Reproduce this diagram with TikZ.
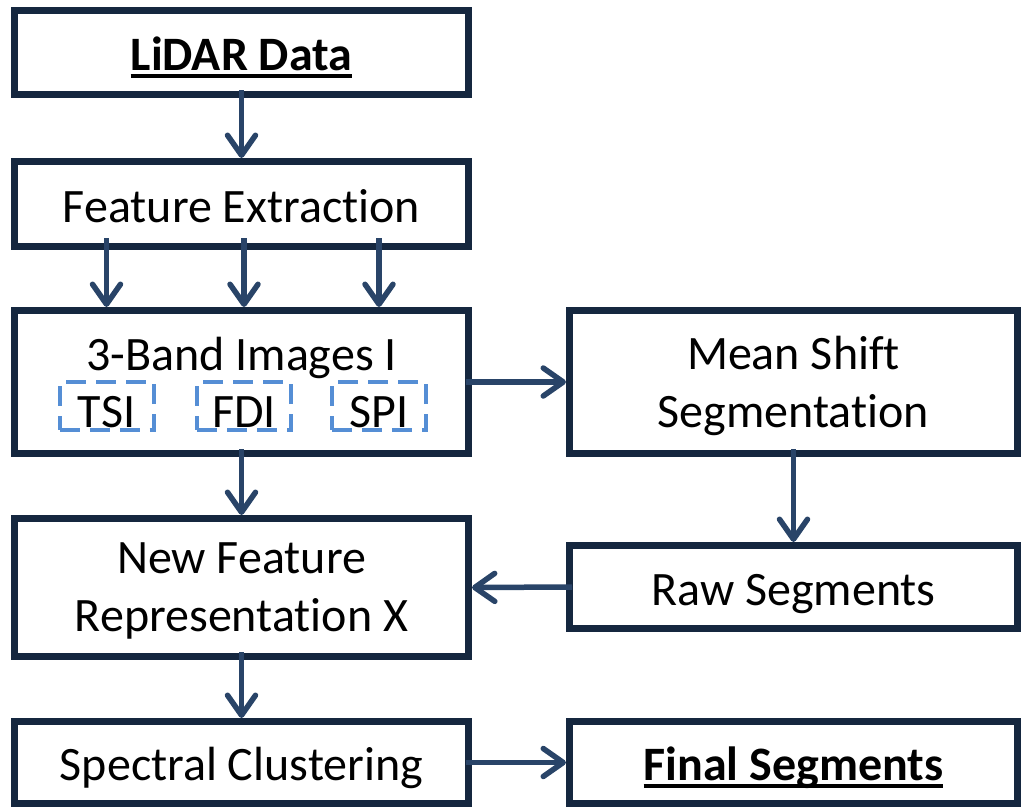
\documentclass[tikz,border=0pt]{standalone}
\usepackage{fontspec}
\setmainfont{Carlito}[Ligatures=NoCommon]
\usetikzlibrary{positioning,arrows.meta}

\definecolor{boxline}{HTML}{15273F}
\definecolor{flowline}{HTML}{294468}
\definecolor{bandline}{HTML}{558ED5}
\newcommand{\thickul}[1]{\sbox0{#1}\rlap{\rule[-7pt]{\wd0}{3.5pt}}\usebox0}

\begin{document}
\begin{tikzpicture}[x=1pt, y=1pt,
	box/.style={draw=boxline, line width=7pt, minimum width=454pt, inner sep=0pt, align=center, text depth=0pt, font=\fontsize{48}{58}\selectfont},
	rbox/.style={box, minimum width=448pt},
	oneline/.style={text height=36pt, text depth=0pt},
	bandbox/.style={draw=bandline, line width=4pt, dash pattern=on 20pt off 10pt, minimum width=94pt, minimum height=48pt, inner sep=0pt, text height=42pt, text depth=0pt, font=\fontsize{48}{58}\selectfont},
	flow/.style={draw=flowline, line width=5.5pt, -{Straight Barb[length=20pt, width=28pt, line cap=round, line join=round]}}]
		\useasboundingbox (0,0) rectangle (1021,-807);

		\node [box, oneline, minimum height=84pt] (lidar) at (241.5,-52.5) {\textbf{\thickul{LiDAR Data}}};
		\node [box, oneline, minimum height=85pt, below=60pt of lidar] (feat) {Feature Extraction};
		\node [box, minimum height=143pt, below=57pt of feat] (bands) {};
		\node [anchor=base, font=\fontsize{48}{58}\selectfont] (bandstitle) at ([yshift=-63pt]bands.north) {3-Band Images I};
		\node [bandbox] (tsi) at ([xshift=-135pt, yshift=-24pt]bands.center) {TSI};
		\node [bandbox] (fdi) at ([xshift=2.5pt, yshift=-24pt]bands.center) {FDI};
		\node [bandbox] (spi) at ([xshift=137.5pt, yshift=-24pt]bands.center) {SPI};
		\node [box, minimum height=138pt, below=58pt of bands] (newf) {New Feature\\Representation X};
		\node [box, oneline, minimum height=82pt, below=58pt of newf] (spec) {Spectral Clustering};
		\node [rbox, minimum height=143pt, right=94pt of bands] (ms) {Mean Shift\\Segmentation};
		\node [rbox, oneline, minimum height=83pt, below=85pt of ms] (raw) {Raw Segments};
		\node [rbox, oneline, minimum height=82pt, right=94pt of spec] (fin) {\textbf{\thickul{Final Segments}}};

		\draw [flow] ([yshift=8pt]lidar.south) -- (feat.north);
		\foreach \b in {tsi, fdi, spi}
			\draw [flow] ([yshift=12pt]feat.south -| \b) -- (bands.north -| \b);
		\draw [flow] ([yshift=8pt]bands.south) -- (newf.north);
		\draw [flow] ([yshift=8pt]newf.south) -- (spec.north);
		\draw [flow] ([xshift=-6pt]bands.east) -- (ms.west);
		\draw [flow] ([yshift=8pt]ms.south) -- (raw.north);
		\draw [flow] ([xshift=6pt]raw.west) -- (newf.east);
		\draw [flow] ([xshift=-6pt]spec.east) -- (fin.west);
	\end{tikzpicture}
\end{document}
